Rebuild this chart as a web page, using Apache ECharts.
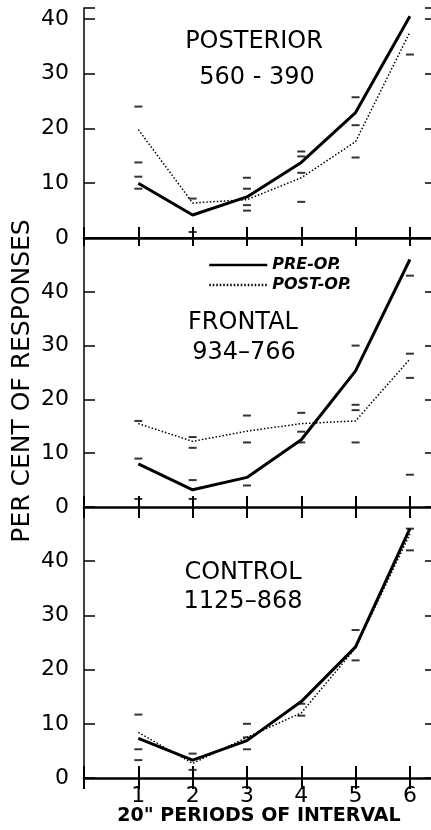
<!DOCTYPE html>
<html>
<head>
<meta charset="utf-8">
<script src="https://cdn.jsdelivr.net/npm/echarts@6/dist/echarts.min.js"></script>
<style>
  html, body { margin: 0; background: #fff; }
  #chart { width: 431px; height: 830px; }
</style>
</head>
<body>
<div id="chart"></div>
<script>
// x positions (20" periods) and the tick labels that are printed
const periods = [1, 2, 3, 4, 5, 6];
const xLabels = [1, 2, 3, 4, 5, 6];
const yLabels = [0, 10, 20, 30, 40];

// posterior group, 560 - 390
const posteriorPre = [10, 4.2, 7.5, 13.8, 22.9, 40.5];
const posteriorPost = [19.8, 6.4, 7, 11, 17.6, 37.6];
const posteriorMarks = [[1, 24], [1, 13.8], [1, 11.2], [1, 9], [2, 7.2], [2, 1.1], [3, 11], [3, 9], [3, 6], [3, 5],
  [4, 15.8], [4, 14.9], [4, 11.9], [4, 6.6], [5, 25.7], [5, 20.6], [5, 14.7], [6, 33.5]];

// frontal group, 934-766
const frontalPre = [8, 3.2, 5.5, 12.5, 25.3, 46];
const frontalPost = [15.5, 12.2, 14.1, 15.5, 16, 27.5];
const frontalMarks = [[1, 16], [1, 9], [1, 1.5], [2, 13], [2, 11], [2, 5], [2, 1.5], [3, 17], [3, 12], [3, 4],
  [4, 17.5], [4, 14], [4, 12], [5, 30], [5, 19], [5, 18], [5, 12], [6, 43], [6, 28.5], [6, 24], [6, 6]];

// control group, 1125-868
const controlPre = [7.3, 3.3, 6.9, 14.1, 24.2, 46];
const controlPost = [8.4, 2.7, 7.5, 12, 24, 45];
const controlMarks = [[1, 11.7], [1, 5.3], [1, 3.3], [2, 4.5], [2, 1.5], [3, 10], [3, 7.5], [3, 5.3],
  [4, 13.7], [4, 11.5], [5, 27.3], [5, 21.7], [6, 42], [6, 46]];

const panels = [
  { pre: posteriorPre, post: posteriorPost, marks: posteriorMarks, yMax: 42, top: 8, height: 230 },
  { pre: frontalPre, post: frontalPost, marks: frontalMarks, yMax: 50, top: 238, height: 269 },
  { pre: controlPre, post: controlPost, marks: controlMarks, yMax: 50, top: 507, height: 271 }
];

const font = 'DejaVu Sans';
const xMax = 6.72;
const grid = [], xAxis = [], yAxis = [], series = [];

panels.forEach((p, i) => {
  const last = i === panels.length - 1;
  grid.push({ left: 84, top: p.top, width: 365, height: p.height, outerBoundsMode: 'none', containLabel: false });
  xAxis.push({
    type: 'value', gridIndex: i, position: 'bottom', min: 0, max: xMax, interval: 1,
    axisLine: { lineStyle: { color: '#000', width: 2.5 } },
    axisTick: { show: true, inside: true, length: last ? 12 : 11, lineStyle: { color: '#000', width: 2 } },
    axisLabel: {
      show: last, color: '#000', fontFamily: font, fontSize: 22, margin: 7,
      formatter: v => xLabels.includes(v) ? String(v) : ''
    },
    splitLine: { show: false }
  });
  xAxis.push({
    type: 'value', gridIndex: i, position: 'top', min: 0, max: xMax, interval: 1,
    axisLine: { show: i === 0, lineStyle: { color: '#000', width: 2 } },
    axisTick: { show: true, inside: true, length: i === 0 ? 8 : 11, lineStyle: { color: '#000', width: 2 } },
    axisLabel: { show: false },
    splitLine: { show: false }
  });
  yAxis.push({
    type: 'value', gridIndex: i, position: 'left', min: 0, max: p.yMax, interval: 10,
    axisLine: { show: true, lineStyle: { color: '#000', width: 1.5 } },
    axisTick: { show: true, inside: true, length: 11, lineStyle: { color: '#000', width: 1.5 } },
    axisLabel: {
      color: '#000', fontFamily: font, fontSize: 22, margin: 15,
      formatter: v => yLabels.includes(v) ? String(v) : ''
    },
    splitLine: { show: false }
  });
  yAxis.push({
    type: 'value', gridIndex: i, position: 'right', min: 0, max: p.yMax, interval: 10,
    axisLine: { show: true, onZero: false, lineStyle: { color: '#000', width: 1.5 } },
    axisTick: { show: true, inside: true, length: 24, lineStyle: { color: '#000', width: 1.5 } },
    axisLabel: { show: false },
    splitLine: { show: false }
  });

  series.push({
    name: 'PRE-OP.', type: 'line', xAxisIndex: 2 * i, yAxisIndex: 2 * i,
    data: periods.map((x, k) => [x, p.pre[k]]),
    symbol: 'none', lineStyle: { color: '#000', width: 3 }, itemStyle: { color: '#000' }, z: 3
  });
  series.push({
    name: 'POST-OP.', type: 'line', xAxisIndex: 2 * i, yAxisIndex: 2 * i,
    data: periods.map((x, k) => [x, p.post[k]]),
    symbol: 'none', lineStyle: { color: '#000', width: 1.5, type: [1.5, 2] }, itemStyle: { color: '#000' }, z: 2
  });
  series.push({
    name: 'marks', type: 'scatter', xAxisIndex: 2 * i, yAxisIndex: 2 * i,
    data: p.marks, symbol: 'rect', symbolSize: [8, 2],
    itemStyle: { color: '#000' }, silent: true
  });
});

const titles = [
  { text: 'POSTERIOR', x: 254, y: 42 },
  { text: '560 - 390', x: 257, y: 78 },
  { text: 'FRONTAL', x: 243, y: 323 },
  { text: '934–766', x: 244, y: 353 },
  { text: 'CONTROL', x: 243, y: 573 },
  { text: '1125–868', x: 243, y: 602 }
];

const chart = echarts.init(document.getElementById('chart'));
chart.setOption({
  backgroundColor: '#fff',
  animation: false,
  grid, xAxis, yAxis, series,
  legend: {
    data: ['PRE-OP.', 'POST-OP.'], orient: 'vertical', left: 208, top: 257,
    itemWidth: 58, itemHeight: 14, itemGap: 4, padding: 0,
    itemStyle: { opacity: 0 },
    lineStyle: { width: 2.5 },
    textStyle: { color: '#000', fontFamily: font, fontStyle: 'italic', fontWeight: 'bold', fontSize: 16 }
  },
  graphic: titles.map(t => ({
    type: 'text', x: t.x, y: t.y,
    style: { text: t.text, font: '24px "DejaVu Sans"', fill: '#000', textAlign: 'center', textVerticalAlign: 'middle' }
  })).concat([{
    type: 'text', x: 22, y: 381, rotation: Math.PI / 2,
    style: { text: 'PER CENT OF RESPONSES', font: '25px "DejaVu Sans"', fill: '#000', textAlign: 'center', textVerticalAlign: 'middle' }
  }, {
    type: 'text', x: 259, y: 816,
    style: { text: '20" PERIODS OF INTERVAL', font: 'bold 19px "DejaVu Sans"', fill: '#000', textAlign: 'center', textVerticalAlign: 'middle' }
  }])
});
</script>
</body>
</html>
